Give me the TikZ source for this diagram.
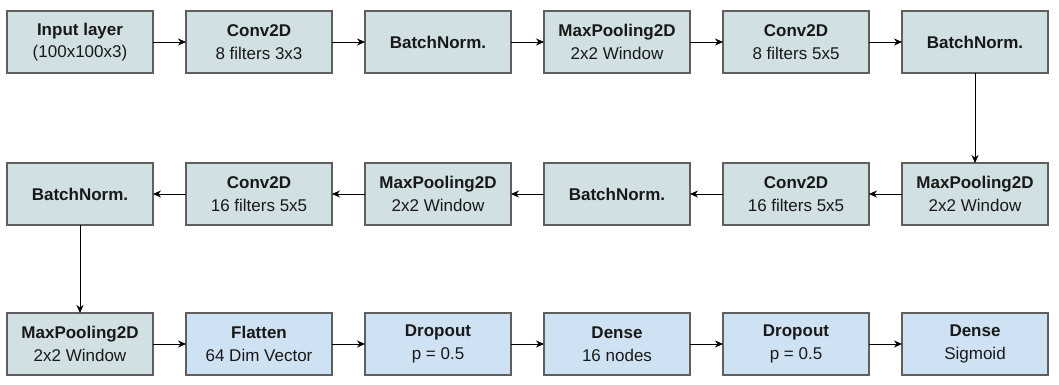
\documentclass[tikz,border=0pt]{standalone}
\usepackage{fontspec}
\setmainfont{Liberation Sans}
\usetikzlibrary{positioning, arrows.meta}

\definecolor{convfill}{HTML}{D0E0E3}
\definecolor{densefill}{HTML}{CFE2F3}
\definecolor{boxline}{HTML}{5F5F5F}

\tikzset{
  layer/.style={rectangle, draw=boxline, line width=1.2pt, fill=convfill,
    outer sep=0pt, minimum width=146pt, minimum height=62pt, align=center,
    text=black!90, font=\fontsize{17}{22.5}\selectfont},
  denselayer/.style={layer, fill=densefill},
  flow/.style={-{Stealth[length=8pt, width=7pt]}, line width=0.9pt}
}

\begin{document}
\begin{tikzpicture}[node distance=33pt and 33pt]
  \useasboundingbox (0,0) rectangle (1059pt,-385pt);

  % Nodes, first row
  \node[layer] (input) at (80pt,-42pt) {\textbf{Input layer}\\(100x100x3)};
  \node[layer, right=of input] (conv1) {\textbf{Conv2D}\\8 filters 3x3};
  \node[layer, right=of conv1] (bn1) {\textbf{BatchNorm.}};
  \node[layer, right=of bn1] (pool1) {\textbf{MaxPooling2D}\\2x2 Window};
  \node[layer, right=of pool1] (conv2) {\textbf{Conv2D}\\8 filters 5x5};
  \node[layer, right=of conv2] (bn2) {\textbf{BatchNorm.}};

  % Nodes, second row (right to left)
  \node[layer, below=90pt of bn2] (pool2) {\textbf{MaxPooling2D}\\2x2 Window};
  \node[layer, left=of pool2] (conv3) {\textbf{Conv2D}\\16 filters 5x5};
  \node[layer, left=of conv3] (bn3) {\textbf{BatchNorm.}};
  \node[layer, left=of bn3] (pool3) {\textbf{MaxPooling2D}\\2x2 Window};
  \node[layer, left=of pool3] (conv4) {\textbf{Conv2D}\\16 filters 5x5};
  \node[layer, left=of conv4] (bn4) {\textbf{BatchNorm.}};

  % Nodes, third row
  \node[layer, below=88pt of bn4] (pool4) {\textbf{MaxPooling2D}\\2x2 Window};
  \node[denselayer, right=of pool4] (flat) {\textbf{Flatten}\\64 Dim Vector};
  \node[denselayer, right=of flat] (drop1) {\textbf{Dropout}\\p = 0.5};
  \node[denselayer, right=of drop1] (dense1) {\textbf{Dense}\\16 nodes};
  \node[denselayer, right=of dense1] (drop2) {\textbf{Dropout}\\p = 0.5};
  \node[denselayer, right=of drop2] (dense2) {\textbf{Dense}\\Sigmoid};

  % Arrows
  \foreach \a/\b in {input/conv1, conv1/bn1, bn1/pool1, pool1/conv2, conv2/bn2,
                     bn2/pool2, pool2/conv3, conv3/bn3, bn3/pool3, pool3/conv4,
                     conv4/bn4, bn4/pool4, pool4/flat, flat/drop1, drop1/dense1,
                     dense1/drop2, drop2/dense2}
    \draw[flow] (\a) -- (\b);
\end{tikzpicture}
\end{document}
